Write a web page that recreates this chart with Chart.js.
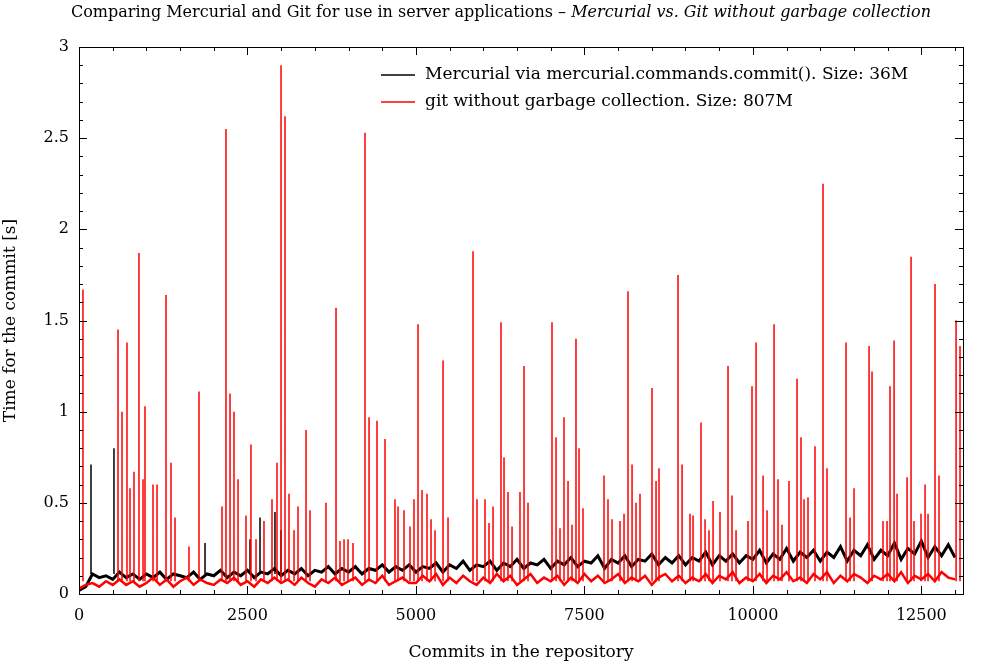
<!DOCTYPE html>
<html>
<head>
<meta charset="utf-8">
<script src="https://cdn.jsdelivr.net/npm/chart.js@4.4.1/dist/chart.umd.min.js"></script>
<style>
  html, body { margin: 0; padding: 0; background: #fff; }
  #wrap { width: 1003px; height: 665px; position: relative; }
</style>
</head>
<body>
<div id="wrap"><canvas id="chart"></canvas></div>
<script>
/* ===== data ===== */
const xTicks = [0, 2500, 5000, 7500, 10000, 12500];
const yTicks = [0, 0.5, 1, 1.5, 2, 2.5, 3];
const baseStep = 100; // commits between baseline samples

const hgBase = [
  0.02,0.04,0.11,0.09,0.10,0.08,0.12,0.09,0.11,0.08,
  0.11,0.09,0.12,0.08,0.11,0.10,0.09,0.12,0.08,0.11,
  0.10,0.13,0.09,0.12,0.10,0.13,0.09,0.12,0.11,0.14,
  0.10,0.13,0.11,0.14,0.10,0.13,0.12,0.15,0.11,0.14,
  0.12,0.15,0.11,0.14,0.13,0.16,0.12,0.15,0.13,0.16,
  0.12,0.15,0.14,0.17,0.12,0.16,0.14,0.18,0.13,0.16,
  0.15,0.18,0.13,0.17,0.15,0.19,0.14,0.17,0.16,0.19,
  0.14,0.18,0.16,0.20,0.15,0.18,0.17,0.21,0.14,0.19,
  0.17,0.21,0.15,0.19,0.18,0.22,0.16,0.20,0.17,0.21,
  0.16,0.20,0.18,0.23,0.16,0.21,0.18,0.22,0.17,0.21,
  0.19,0.24,0.17,0.22,0.19,0.25,0.18,0.23,0.20,0.24,
  0.18,0.23,0.20,0.26,0.18,0.24,0.21,0.27,0.19,0.24,
  0.21,0.28,0.19,0.25,0.22,0.29,0.20,0.26,0.21,0.27,
  0.20
];

const gitBase = [
  0.03,0.05,0.06,0.04,0.07,0.05,0.08,0.05,0.07,0.04,
  0.06,0.09,0.05,0.08,0.04,0.07,0.09,0.05,0.08,0.06,
  0.05,0.08,0.06,0.09,0.05,0.07,0.04,0.08,0.06,0.09,
  0.06,0.08,0.05,0.09,0.06,0.04,0.08,0.06,0.09,0.05,
  0.07,0.09,0.05,0.08,0.06,0.10,0.05,0.07,0.09,0.06,
  0.06,0.10,0.07,0.11,0.05,0.09,0.06,0.10,0.07,0.05,
  0.09,0.06,0.11,0.07,0.10,0.05,0.08,0.11,0.06,0.09,
  0.07,0.10,0.05,0.09,0.06,0.11,0.07,0.10,0.06,0.08,
  0.11,0.06,0.09,0.07,0.10,0.05,0.09,0.11,0.07,0.10,
  0.06,0.09,0.07,0.11,0.06,0.10,0.08,0.12,0.06,0.09,
  0.07,0.11,0.06,0.10,0.08,0.12,0.07,0.09,0.06,0.11,
  0.08,0.12,0.06,0.10,0.07,0.11,0.09,0.06,0.10,0.08,
  0.11,0.07,0.12,0.06,0.10,0.08,0.11,0.07,0.12,0.09,
  0.08
];

const hgFloor = 0.11;
const hgSpikeX = [178, 519, 1870, 2538, 2686, 2908, 2998];
const hgSpikeY = [0.71, 0.80, 0.28, 0.30, 0.42, 0.45, 0.35];

const gitFloor = 0.07;
const gitSpikeX = [
  59,579,638,712,757,816,890,950,979,1098,1158,1291,1365,1425,1632,1781,
  2122,2181,2241,2300,2360,2478,2552,2627,2745,2864,2938,2998,3057,3116,3191,3250,
  3369,3428,3665,3814,3873,3933,3992,4066,4244,4304,4422,4541,4689,4734,4823,4912,
  4971,5031,5090,5164,5224,5283,5402,5476,5847,5906,6025,6084,6144,6262,6307,6366,
  6426,6544,6604,6663,7019,7079,7138,7197,7257,7316,7375,7420,7479,7791,7850,7910,
  8028,8088,8147,8207,8266,8325,8503,8563,8607,8889,8949,9067,9112,9230,9290,9349,
  9409,9512,9631,9690,9750,9928,9987,10047,10151,10210,10314,10373,10432,10536,10655,10714,
  10759,10818,10922,11041,11100,11382,11442,11501,11724,11768,11931,11991,12035,12095,12139,12288,
  12347,12391,12495,12555,12599,12703,12762,13015,13074
];
const gitSpikeY = [
  1.67,1.45,1.00,1.38,0.58,0.67,1.87,0.63,1.03,0.60,0.60,1.64,0.72,0.42,0.26,1.11,
  0.48,2.55,1.10,1.00,0.63,0.43,0.82,0.30,0.40,0.52,0.72,2.90,2.62,0.55,0.35,0.48,
  0.90,0.46,0.50,1.57,0.29,0.30,0.30,0.28,2.53,0.97,0.95,0.85,0.52,0.48,0.46,0.37,
  0.52,1.48,0.57,0.55,0.41,0.35,1.28,0.42,1.88,0.52,0.52,0.39,0.48,1.49,0.75,0.56,
  0.37,0.56,1.25,0.50,1.49,0.86,0.36,0.97,0.62,0.38,1.40,0.80,0.47,0.65,0.52,0.41,
  0.40,0.44,1.66,0.71,0.50,0.55,1.13,0.62,0.69,1.75,0.71,0.44,0.43,0.94,0.41,0.35,
  0.51,0.45,1.25,0.54,0.35,0.40,1.14,1.38,0.65,0.46,1.48,0.63,0.38,0.62,1.18,0.86,
  0.52,0.53,0.81,2.25,0.69,1.38,0.42,0.58,1.36,1.22,0.40,0.40,1.14,1.39,0.55,0.64,
  1.85,0.40,0.44,0.60,0.44,1.70,0.65,1.50,1.36
];

/* ===== build points ===== */
function basePoints(vals) {
    return vals.map((v, i) => ({ x: i * baseStep, y: v }));
}
function spikePoints(xs, ys, floor) {
    const pts = [];
    xs.forEach((x, i) => {
        pts.push({ x: x, y: floor }, { x: x, y: ys[i] }, { x: x, y: null });
    });
    return pts;
}

const FONT = "'DejaVu Serif', 'Liberation Serif', serif";

/* ===== frame, inward ticks, title, legend ===== */
const decor = {
    id: "decor",
    afterDatasetsDraw(chart) {
        const ctx = chart.ctx;
        const a = chart.chartArea;
        const xs = chart.scales.x, ys = chart.scales.y;
        ctx.save();
        ctx.strokeStyle = "#000";
        ctx.lineWidth = 1;
        ctx.strokeRect(a.left + 0.5, a.top + 0.5, a.right - a.left, a.bottom - a.top);
        ctx.beginPath();
        for (let v = 0; v <= 13000; v += 500) {
            const p = Math.round(xs.getPixelForValue(v)) + 0.5;
            const len = v % 2500 === 0 ? 8 : 4;
            ctx.moveTo(p, a.bottom); ctx.lineTo(p, a.bottom - len);
            ctx.moveTo(p, a.top); ctx.lineTo(p, a.top + len);
        }
        for (let k = 0; k <= 30; k++) {
            const p = Math.round(ys.getPixelForValue(k / 10)) + 0.5;
            const len = k % 5 === 0 ? 8 : 4;
            ctx.moveTo(a.left, p); ctx.lineTo(a.left + len, p);
            ctx.moveTo(a.right, p); ctx.lineTo(a.right - len, p);
        }
        ctx.stroke();

        // legend
        ctx.font = "17px " + FONT;
        ctx.textBaseline = "middle";
        ctx.fillStyle = "#000";
        ctx.lineWidth = 1.5;
        const items = [
            ["Mercurial via mercurial.commands.commit(). Size: 36M", "#000", 75],
            ["git without garbage collection. Size: 807M", "#ff0000", 102]
        ];
        items.forEach(([txt, col, y]) => {
            ctx.strokeStyle = col;
            ctx.beginPath();
            ctx.moveTo(381, y); ctx.lineTo(415, y);
            ctx.stroke();
            ctx.fillText(txt, 425, y);
        });

        // title
        const t1 = "Comparing Mercurial and Git for use in server applications \u2013 ";
        const t2 = "Mercurial vs. Git without garbage collection";
        ctx.font = "16px " + FONT;
        const w1 = ctx.measureText(t1).width;
        ctx.font = "italic 16px " + FONT;
        const w2 = ctx.measureText(t2).width;
        const x0 = 501 - (w1 + w2) / 2;
        ctx.font = "16px " + FONT;
        ctx.fillText(t1, x0, 13);
        ctx.font = "italic 16px " + FONT;
        ctx.fillText(t2, x0 + w1, 13);
        ctx.restore();
    }
};

new Chart(document.getElementById("chart"), {
    type: "line",
    data: {
        datasets: [
            { data: spikePoints(gitSpikeX, gitSpikeY, gitFloor), borderColor: "#ff0000", borderWidth: 1.5 },
            { data: basePoints(gitBase), borderColor: "#ff0000", borderWidth: 2.5 },
            { data: spikePoints(hgSpikeX, hgSpikeY, hgFloor), borderColor: "#000", borderWidth: 1.5 },
            { data: basePoints(hgBase), borderColor: "#000", borderWidth: 3 }
        ]
    },
    options: {
        responsive: true,
        maintainAspectRatio: false,
        animation: false,
        spanGaps: false,
        layout: { padding: { top: 47, right: 40, left: 0, bottom: 0 } },
        elements: {
            point: { radius: 0 },
            line: { tension: 0 }
        },
        plugins: { legend: { display: false }, tooltip: { enabled: false } },
        scales: {
            x: {
                type: "linear",
                min: 0,
                max: 13118,
                afterFit: s => { s.height = 71; },
                afterBuildTicks: s => { s.ticks = xTicks.map(v => ({ value: v })); },
                grid: { display: false, drawTicks: false },
                border: { display: false },
                ticks: { color: "#000", padding: 12, font: { family: FONT, size: 16 },
                         callback: v => String(v) },
                title: { display: true, text: "Commits in the repository", color: "#000",
                         font: { family: FONT, size: 17 }, padding: { top: 4, bottom: 2 } }
            },
            y: {
                min: 0,
                max: 3,
                afterFit: s => { s.width = 79; },
                afterBuildTicks: s => { s.ticks = yTicks.map(v => ({ value: v })); },
                grid: { display: false, drawTicks: false },
                border: { display: false },
                ticks: { color: "#000", padding: 10, font: { family: FONT, size: 16 },
                         callback: v => String(v) },
                title: { display: true, text: "Time for the commit [s]", color: "#000",
                         font: { family: FONT, size: 17 }, padding: { top: 0, bottom: 2 } }
            }
        }
    },
    plugins: [decor]
});
</script>
</body>
</html>
